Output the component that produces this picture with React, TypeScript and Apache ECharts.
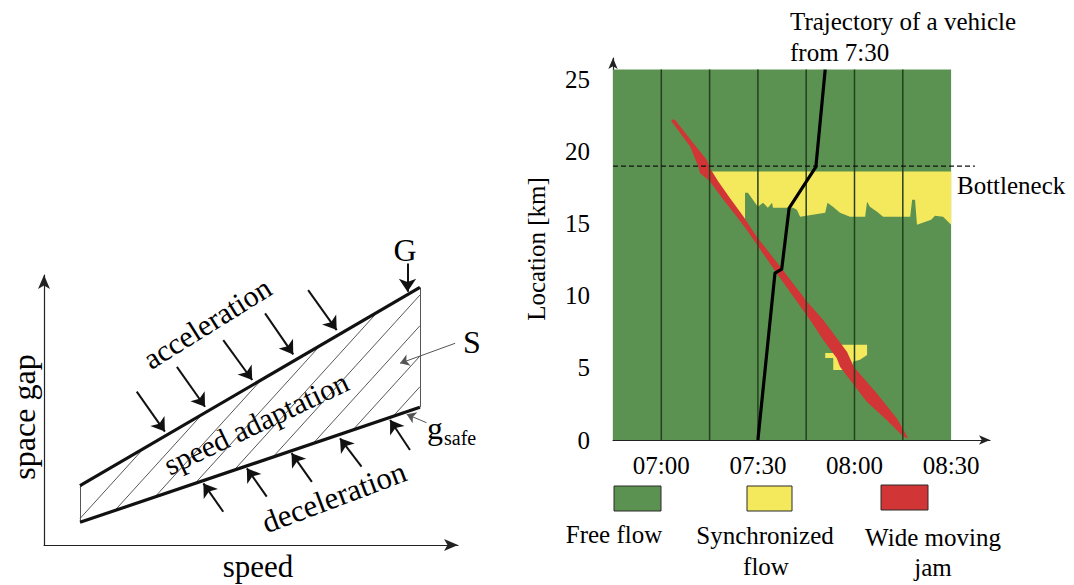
import React, { useEffect, useRef } from "react";
import * as echarts from "echarts";

const SERIF = "Liberation Serif";
const BASE_SIZE = 25; // large labels are drawn at this size and scaled up

// ---------- Left panel: space gap vs speed (schematic, arbitrary 0..100 units) ----------
const gapUpperEdge = [[8.7, 22.0], [90.8, 95.4]]; // G line
const gapLowerEdge = [[8.7, 8.4], [90.8, 51.0]]; // g_safe line
const hatchAnchors = [-2.2, 7.5, 17.1, 26.8, 36.5, 45.9, 55.3, 65.0, 74.6, 84.3];
const hatchSlope = 1.69;

const accelArrows = [
  [[22.4, 56.8], [29.2, 42.0]],
  [[32.1, 66.0], [38.9, 51.2]],
  [[43.3, 75.9], [50.3, 61.1]],
  [[53.4, 85.8], [60.2, 70.6]],
  [[63.8, 94.4], [70.7, 79.6]],
  [[87.8, 104.3], [87.8, 93.8]],
];
const decelArrows = [
  [[43.3, 12.3], [38.5, 22.8]],
  [[53.8, 17.9], [49.0, 28.4]],
  [[64.7, 23.4], [59.8, 34.0]],
  [[76.7, 29.0], [71.5, 39.5]],
  [[88.4, 35.2], [83.6, 46.3]],
];
const pointerArrows = [
  [[99.3, 74.7], [86.0, 67.3]],
  [[92.4, 45.3], [87.6, 48.4]],
];

// ---------- Right panel: traffic pattern (time = minutes after midnight, location = km) ----------
const timeStart = 405; // 06:45
const timeEnd = 510; // 08:30
const roadEnd = 25.7;
const gridTimes = [420, 435, 450, 465, 480, 495];
const timeTicks = [420, 450, 480, 510];
const bottleneckKm = 19;

// Wide moving jam: downstream (front) edge from top tip to bottom tip, then upstream edge back up
const jamFront = [
  [423.2, 22.25], [424.3, 22.2], [429.9, 20.6], [434.1, 19.44], [435.1, 18.87],
  [437.7, 17.94], [441.3, 16.78], [445.5, 15.51], [449.6, 14.12], [456.9, 12.03],
  [465.2, 9.6], [470.3, 8.33], [477.7, 6.11], [479.8, 5.07], [486.9, 3.24],
  [493.1, 1.51], [496.7, 0.12],
];
const jamRear = [
  [495.2, 0.23], [490.0, 1.39], [483.8, 2.66], [475.5, 5.09], [474.5, 5.67],
  [470.3, 6.94], [466.2, 8.33], [461.0, 9.95], [455.8, 11.58], [446.5, 14.58],
  [443.4, 15.51], [439.3, 16.67], [435.1, 17.94], [432.0, 18.52], [431.5, 18.98],
  [428.9, 20.37], [423.2, 22.1],
];

// Synchronized flow regions
const syncUpstreamOfBottleneck = [
  [433.9, 18.63], [510, 18.63], [510, 14.93], [507.5, 15.49], [505.0, 15.56],
  [503.8, 15.28], [499.4, 14.93], [498.8, 16.67], [497.9, 16.67], [497.3, 15.49],
  [488.9, 15.49], [487.0, 15.83], [484.8, 16.18], [483.9, 16.53], [483.3, 15.49],
  [478.6, 15.49], [475.5, 15.76], [473.3, 16.18], [471.6, 16.46], [470.9, 15.76],
  [463.1, 15.49], [462.1, 15.97], [460.9, 16.11], [454.7, 16.11], [454.4, 16.46],
  [453.1, 16.11], [451.6, 16.46], [450.0, 16.18], [449.1, 16.46], [446.9, 17.15],
  [446.0, 17.15], [446.0, 14.86], [443.8, 15.69], [436.4, 17.92],
];
const syncNearJam = [
  [475.5, 6.6], [483.9, 6.6], [483.9, 5.9], [481.7, 5.56], [479.5, 5.42],
  [479.5, 4.86], [473.4, 4.86], [473.4, 5.69], [470.9, 5.69], [470.9, 6.04],
  [475.5, 6.04],
];
const syncRegions = [syncUpstreamOfBottleneck, syncNearJam];

// Vehicle trajectory starting at 7:30
const trajectory = [
  [450.0, 0], [455.3, 11.58], [457.4, 11.85], [459.7, 16.09], [468.0, 18.94], [470.9, 25.7],
];

const FREE = "#5b9251";
const SYNC = "#f4e85c";
const JAM = "#d13535";
const GRIDLINE = "#24401f";
const INK = "#000";

const fmtTime = (m: number) =>
  `${String(Math.floor(m / 60)).padStart(2, "0")}:${String(m % 60).padStart(2, "0")}`;

// clip one hatch line (through an anchor on the lower edge) to the hatched band
function hatchSegment(ax: number): number[][] | null {
  const [[lx0, ly0], [lx1, ly1]] = gapLowerEdge;
  const [[ux0, uy0], [ux1, uy1]] = gapUpperEdge;
  const lm = (ly1 - ly0) / (lx1 - lx0);
  const um = (uy1 - uy0) / (ux1 - ux0);
  const y0 = ly0 + lm * (ax - lx0);
  const uAt = uy0 + um * (ax - ux0);
  const sMin = Math.max(0, lx0 - ax);
  const sMax = Math.min(lx1 - ax, (uAt - y0) / (hatchSlope - um));
  if (sMax <= sMin) return null;
  return [
    [ax + sMin, y0 + hatchSlope * sMin],
    [ax + sMax, y0 + hatchSlope * sMax],
  ];
}

const arrowLines = (list: number[][][]) => list.map((c) => ({ coords: c }));

// serif text; sizes above BASE_SIZE are reached by scaling the element
const txt = (
  text: string,
  x: number,
  y: number,
  size: number,
  align = "center",
  rotation = 0
) => {
  const fontSize = Math.min(size, BASE_SIZE);
  const k = size / fontSize;
  return {
    type: "text",
    x,
    y,
    rotation,
    scaleX: k,
    scaleY: k,
    style: {
      text,
      fontFamily: SERIF,
      fontSize,
      fill: INK,
      align,
      verticalAlign: "middle",
    },
  };
};

function buildOption(): any {
  const hatches = hatchAnchors.map(hatchSegment).filter(Boolean) as number[][][];
  const jamPolygon = [...jamFront, ...jamRear];

  return {
    animation: false,
    backgroundColor: "#fff",
    textStyle: { fontFamily: SERIF },
    grid: [
      { left: 44, top: 275, width: 414, height: 270 },
      { left: 613, top: 58, width: 377, height: 382 },
    ],
    xAxis: [
      {
        gridIndex: 0,
        type: "value",
        min: 0,
        max: 100,
        axisLine: {
          lineStyle: { color: "#222", width: 1.2 },
          symbol: ["none", "arrow"],
          symbolSize: [9, 14],
        },
        axisTick: { show: false },
        axisLabel: { show: false },
        splitLine: { show: false },
      },
      {
        gridIndex: 1,
        type: "value",
        min: timeStart,
        max: 522.08,
        interval: 15,
        axisLine: {
          lineStyle: { color: "#222", width: 1.2 },
          symbol: ["none", "arrow"],
          symbolSize: [7, 11],
        },
        axisTick: { show: false },
        splitLine: { show: false },
        axisLabel: {
          interval: 0,
          margin: 13,
          fontFamily: SERIF,
          fontSize: 25,
          color: INK,
          formatter: (v: number) => (timeTicks.includes(v) ? fmtTime(v) : ""),
        },
      },
    ],
    yAxis: [
      {
        gridIndex: 0,
        type: "value",
        min: 0,
        max: 100,
        axisLine: {
          show: true,
          lineStyle: { color: "#222", width: 1.2 },
          symbol: ["none", "arrow"],
          symbolSize: [9, 14],
        },
        axisTick: { show: false },
        axisLabel: { show: false },
        splitLine: { show: false },
      },
      {
        gridIndex: 1,
        type: "value",
        min: 0,
        max: 26.5,
        interval: 5,
        axisLine: {
          show: true,
          lineStyle: { color: "#222", width: 1.2 },
          symbol: ["none", "arrow"],
          symbolSize: [7, 11],
        },
        axisTick: { show: false },
        splitLine: { show: false },
        axisLabel: {
          margin: 23,
          fontFamily: SERIF,
          fontSize: 25,
          color: INK,
          formatter: (v: number) => (v % 5 === 0 ? String(v) : ""),
        },
        name: "Location [km]",
        nameLocation: "middle",
        nameGap: 64,
        nameTextStyle: { fontFamily: SERIF, fontSize: 25, color: INK },
      },
    ],
    series: [
      // ----- left schematic -----
      {
        type: "lines",
        coordinateSystem: "cartesian2d",
        xAxisIndex: 0,
        yAxisIndex: 0,
        silent: true,
        symbol: "none",
        lineStyle: { color: "#444", width: 0.9, opacity: 1 },
        data: hatches.map((c) => ({ coords: c })),
        z: 2,
      },
      {
        type: "lines",
        coordinateSystem: "cartesian2d",
        xAxisIndex: 0,
        yAxisIndex: 0,
        silent: true,
        symbol: "none",
        lineStyle: { color: "#555", width: 1, opacity: 1 },
        data: [
          { coords: [gapLowerEdge[0], gapUpperEdge[0]] },
          { coords: [gapLowerEdge[1], gapUpperEdge[1]] },
        ],
        z: 3,
      },
      {
        type: "lines",
        coordinateSystem: "cartesian2d",
        xAxisIndex: 0,
        yAxisIndex: 0,
        silent: true,
        symbol: "none",
        lineStyle: { color: "#111", width: 3.2, opacity: 1 },
        data: [{ coords: gapUpperEdge }, { coords: gapLowerEdge }],
        z: 4,
      },
      {
        type: "lines",
        coordinateSystem: "cartesian2d",
        xAxisIndex: 0,
        yAxisIndex: 0,
        silent: true,
        clip: false,
        symbol: ["none", "arrow"],
        symbolSize: 13,
        lineStyle: { color: "#111", width: 2, opacity: 1 },
        data: arrowLines([...accelArrows, ...decelArrows]),
        z: 5,
      },
      {
        type: "lines",
        coordinateSystem: "cartesian2d",
        xAxisIndex: 0,
        yAxisIndex: 0,
        silent: true,
        clip: false,
        symbol: ["none", "arrow"],
        symbolSize: 9,
        lineStyle: { color: "#555", width: 1, opacity: 1 },
        data: arrowLines(pointerArrows),
        z: 5,
      },
      // ----- right traffic pattern -----
      {
        type: "custom",
        xAxisIndex: 1,
        yAxisIndex: 1,
        silent: true,
        data: [[timeStart, 0]],
        z: 1,
        renderItem: (_p: any, api: any) => {
          const a = api.coord([timeStart, roadEnd]);
          const b = api.coord([timeEnd, 0]);
          return {
            type: "rect",
            shape: { x: a[0], y: a[1], width: b[0] - a[0], height: b[1] - a[1] },
            style: { fill: FREE },
          };
        },
      },
      {
        type: "custom",
        xAxisIndex: 1,
        yAxisIndex: 1,
        silent: true,
        data: syncRegions.map((r) => r[0]),
        z: 2,
        renderItem: (p: any, api: any) => ({
          type: "polygon",
          shape: { points: syncRegions[p.dataIndex].map((pt) => api.coord(pt)) },
          style: { fill: SYNC },
        }),
      },
      {
        type: "custom",
        xAxisIndex: 1,
        yAxisIndex: 1,
        silent: true,
        data: [jamPolygon[0]],
        z: 3,
        renderItem: (_p: any, api: any) => ({
          type: "polygon",
          shape: { points: jamPolygon.map((pt) => api.coord(pt)) },
          style: { fill: JAM },
        }),
      },
      {
        type: "custom",
        xAxisIndex: 1,
        yAxisIndex: 1,
        silent: true,
        data: gridTimes.map((t) => [t, 0]),
        z: 4,
        renderItem: (p: any, api: any) => {
          const t = gridTimes[p.dataIndex];
          const a = api.coord([t, 0]);
          const b = api.coord([t, roadEnd]);
          return {
            type: "line",
            shape: { x1: a[0], y1: a[1], x2: b[0], y2: b[1] },
            style: { stroke: GRIDLINE, lineWidth: 1.5 },
          };
        },
      },
      {
        type: "line",
        xAxisIndex: 1,
        yAxisIndex: 1,
        silent: true,
        symbol: "none",
        data: [[timeStart, bottleneckKm], [517.4, bottleneckKm]],
        lineStyle: { color: "#111", width: 1.1, type: [5, 3] },
        z: 5,
      },
      {
        type: "line",
        xAxisIndex: 1,
        yAxisIndex: 1,
        silent: true,
        symbol: "none",
        data: trajectory,
        lineStyle: { color: "#000", width: 3.2, join: "round" },
        z: 6,
      },
    ],
    graphic: [
      // left schematic labels
      txt("space gap", 24, 417, 32, "center", Math.PI / 2),
      txt("speed", 258, 566, 31),
      txt("acceleration", 207, 323, 30, "center", 0.56),
      txt("speed adaptation", 256, 423, 30, "center", 0.445),
      txt("deceleration", 334, 497, 31, "center", 0.36),
      txt("G", 405, 250, 32),
      txt("S", 472, 342, 32),
      txt("g", 427, 428, 32, "left"),
      txt("safe", 444, 438, 20, "left"),
      // right panel annotations
      txt("Trajectory of a vehicle", 790, 21, 25, "left"),
      txt("from 7:30", 790, 52, 25, "left"),
      txt("Bottleneck", 957, 185, 25, "left"),
      // legend
      { type: "rect", shape: { x: 614, y: 486, width: 47, height: 25 }, style: { fill: FREE, stroke: "#2a2a2a", lineWidth: 1 } },
      { type: "rect", shape: { x: 747, y: 486, width: 45, height: 25 }, style: { fill: SYNC, stroke: "#2a2a2a", lineWidth: 1 } },
      { type: "rect", shape: { x: 881, y: 485, width: 47, height: 25 }, style: { fill: JAM, stroke: "#2a2a2a", lineWidth: 1 } },
      txt("Free flow", 614, 534, 25),
      txt("Synchronized", 765, 535, 25),
      txt("flow", 766, 566, 25),
      txt("Wide moving", 933, 537, 25),
      txt("jam", 933, 567, 25),
    ],
  };
}

export default function App() {
  const ref = useRef<HTMLDivElement>(null);
  useEffect(() => {
    if (!ref.current) return;
    const chart = echarts.init(ref.current, null, { renderer: "svg" });
    chart.setOption(buildOption());
    return () => chart.dispose();
  }, []);
  return (
    <div
      ref={ref}
      style={{ position: "absolute", left: 0, top: 0, width: 1074, height: 585, background: "#fff" }}
    />
  );
}
